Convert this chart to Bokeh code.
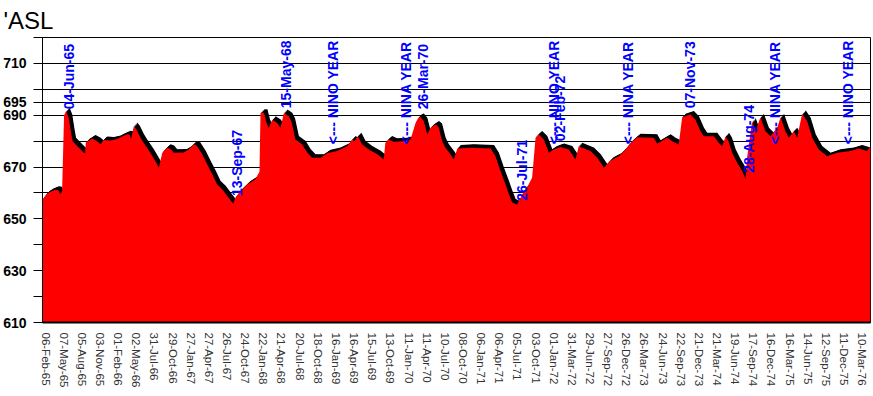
import math
from datetime import datetime, timedelta
from bokeh.plotting import figure
from bokeh.models import Range1d, FixedTicker, DatetimeTickFormatter
from bokeh.core.properties import value
from bokeh.embed import file_html
from bokeh.resources import INLINE

title_text = "'ASL"

x_tick_labels = [
    "06-Feb-65", "07-May-65", "05-Aug-65", "03-Nov-65", "01-Feb-66", "02-May-66",
    "31-Jul-66", "29-Oct-66", "27-Jan-67", "27-Apr-67", "26-Jul-67", "24-Oct-67",
    "22-Jan-68", "21-Apr-68", "20-Jul-68", "18-Oct-68", "16-Jan-69", "16-Apr-69",
    "15-Jul-69", "13-Oct-69", "11-Jan-70", "11-Apr-70", "10-Jul-70", "08-Oct-70",
    "06-Jan-71", "06-Apr-71", "05-Jul-71", "03-Oct-71", "01-Jan-72", "31-Mar-72",
    "29-Jun-72", "27-Sep-72", "26-Dec-72", "26-Mar-73", "24-Jun-73", "22-Sep-73",
    "21-Dec-73", "21-Mar-74", "19-Jun-74", "17-Sep-74", "16-Dec-74", "16-Mar-75",
    "14-Jun-75", "12-Sep-75", "11-Dec-75", "10-Mar-76",
]

y_ticks = [610, 620, 630, 640, 650, 660, 670, 680, 690, 695, 700, 710, 720]
y_labelled = [610, 630, 650, 670, 690, 695, 710]

level_dates = [
    "22-Jan-65", "11-Feb-65", "03-Mar-65", "28-Mar-65", "11-Apr-65", "19-Apr-65",
    "29-Apr-65", "09-May-65", "19-May-65", "01-Jun-65", "11-Jun-65", "20-Jun-65",
    "14-Jul-65", "15-Aug-65", "21-Aug-65", "25-Aug-65", "25-Sep-65", "20-Oct-65",
    "06-Nov-65", "21-Nov-65", "25-Dec-65", "28-Jan-66", "13-Feb-66", "18-Mar-66",
    "30-Mar-66", "06-Apr-66", "20-Apr-66", "03-May-66", "23-May-66", "08-Jun-66",
    "11-Jul-66", "14-Aug-66", "22-Aug-66", "08-Sep-66", "02-Oct-66", "19-Oct-66",
    "04-Nov-66", "22-Dec-66", "17-Jan-67", "11-Feb-67", "25-Feb-67", "25-Mar-67",
    "19-Apr-67", "14-May-67", "07-Jun-67", "02-Jul-67", "27-Jul-67", "21-Aug-67",
    "27-Aug-67", "06-Sep-67", "01-Oct-67", "03-Nov-67", "14-Dec-67", "27-Dec-67",
    "03-Jan-68", "08-Jan-68", "25-Jan-68", "07-Feb-68", "18-Feb-68", "06-Mar-68",
    "31-Mar-68", "16-Apr-68", "03-May-68", "27-May-68", "10-Jun-68", "29-Jun-68",
    "02-Aug-68", "27-Aug-68", "20-Sep-68", "01-Nov-68", "04-Dec-68", "22-Jan-69",
    "13-Mar-69", "07-Apr-69", "18-Apr-69", "05-May-69", "26-May-69", "28-Jun-69",
    "09-Aug-69", "10-Sep-69", "18-Sep-69", "05-Oct-69", "29-Oct-69", "18-Dec-69",
    "21-Jan-70", "15-Feb-70", "01-Mar-70", "11-Mar-70", "28-Mar-70", "14-Apr-70",
    "30-Apr-70", "25-May-70", "09-Jun-70", "27-Jun-70", "13-Jul-70", "07-Aug-70",
    "24-Aug-70", "10-Sep-70", "14-Nov-70", "22-Feb-71", "18-Mar-71", "12-Apr-71",
    "07-May-71", "24-May-71", "09-Jun-71", "04-Jul-71", "29-Jul-71", "30-Aug-71",
    "16-Sep-71", "03-Oct-71", "19-Oct-71", "13-Nov-71", "08-Dec-71", "01-Jan-72",
    "04-Feb-72", "16-Mar-72", "18-Apr-72", "04-May-72", "28-May-72", "01-Jul-72",
    "04-Aug-72", "06-Sep-72", "09-Oct-72", "19-Nov-72", "22-Dec-72", "16-Jan-73",
    "18-Feb-73", "11-May-73", "28-May-73", "17-Jul-73", "10-Aug-73", "12-Sep-73",
    "29-Sep-73", "09-Nov-73", "04-Dec-73", "29-Dec-73", "14-Jan-74", "05-Mar-74",
    "30-Mar-74", "16-Apr-74", "02-May-74", "17-May-74", "04-Jun-74", "29-Jun-74",
    "24-Jul-74", "09-Aug-74", "17-Aug-74", "11-Sep-74", "28-Sep-74", "22-Oct-74",
    "16-Nov-74", "11-Dec-74", "13-Jan-75", "30-Jan-75", "23-Feb-75", "12-Mar-75",
    "06-Apr-75", "22-Apr-75", "17-May-75", "11-Jun-75", "06-Jul-75", "07-Aug-75",
    "18-Sep-75", "07-Nov-75", "12-Jan-76", "22-Feb-76", "03-Apr-76", "20-Apr-76",
]
level_values = [
    657.5, 659.5, 660.5, 661.2, 661.0, 659.5,
    660.5, 690.0, 691.5, 689.0, 684.0, 680.0,
    678.0, 675.5, 675.3, 679.5, 681.0, 680.0,
    678.8, 680.4, 680.2, 680.8, 681.5, 682.7,
    682.5, 680.8, 685.8, 684.5, 681.3, 679.3,
    675.5, 671.0, 669.7, 675.5, 677.4, 677.0,
    675.5, 675.6, 676.8, 678.7, 678.3, 674.9,
    671.0, 667.2, 663.3, 661.4, 658.8, 656.3,
    655.8, 658.2, 660.8, 663.3, 665.3, 667.2,
    668.0, 690.9, 691.0, 687.0, 685.1, 688.3,
    687.0, 685.1, 690.9, 689.6, 687.5, 680.6,
    678.7, 675.5, 673.6, 673.6, 675.3, 676.2,
    678.0, 680.6, 680.0, 681.9, 678.7, 676.8,
    674.9, 672.9, 679.3, 680.6, 679.8, 680.0,
    680.6, 687.0, 689.0, 689.3, 687.7, 682.6,
    685.1, 686.4, 685.5, 680.0, 677.4, 674.9,
    672.9, 677.2, 677.4, 677.2, 674.2, 668.5,
    663.3, 659.5, 656.3, 655.4, 659.5, 663.3,
    665.9, 681.3, 682.6, 680.6, 675.5, 676.8,
    677.7, 676.8, 672.9, 678.0, 677.3, 676.2,
    673.6, 669.7, 672.5, 674.2, 676.8, 679.3,
    681.5, 681.3, 679.0, 681.3, 680.0, 678.7,
    689.2, 690.3, 688.3, 683.8, 681.9, 681.9,
    679.3, 678.0, 681.9, 680.0, 675.5, 671.7,
    668.5, 665.3, 673.6, 687.7, 683.8, 689.2,
    683.8, 681.9, 685.1, 689.2, 683.8, 681.3,
    683.8, 681.3, 690.6, 687.7, 681.3, 676.8,
    674.2, 675.5, 676.2, 677.2, 676.2, 678.0,
]

ann_dates = ["04-Jun-65", "13-Sep-67", "15-May-68", "01-Jan-69", "01-Jan-70",
             "26-Mar-70", "26-Jul-71", "01-Jan-72", "02-Feb-72", "01-Jan-73",
             "07-Nov-73", "28-Aug-74", "01-Jan-75", "01-Jan-76"]
ann_texts = ["04-Jun-65", "13-Sep-67", "15-May-68", "<--- NINO YEAR", "<--- NINA YEAR",
             "26-Mar-70", "26-Jul-71", "<--- NINO YEAR", "02-Feb-72", "<--- NINA YEAR",
             "07-Nov-73", "28-Aug-74", "<--- NINA YEAR", "<--- NINO YEAR"]
ann_values = [692.3, 658.8, 692.7, 678.8, 678.8,
              692.3, 657.0, 678.8, 680.0, 678.8,
              692.7, 667.8, 678.8, 678.8]

x_start, x_end = "22-Jan-65", "20-Apr-76"
y_start, y_end = 610, 720


def d(s):
    return datetime.strptime(s[:7] + "19" + s[7:], "%d-%b-%Y")


def ms(dt):
    return (dt - datetime(1970, 1, 1)).total_seconds() * 1000.0


FL, FR, FT, FB = 42, 870, 37, 322
W, H = 872, 394

p = figure(width=W, height=H, output_backend="svg", toolbar_location=None,
           x_axis_type="datetime",
           x_range=Range1d(d(x_start), d(x_end)), y_range=Range1d(y_start, y_end),
           min_border_left=FL, min_border_right=W - FR, min_border_top=FT,
           min_border_bottom=H - FB, background_fill_color="white",
           border_fill_color="white")
p.outline_line_color = "black"
p.outline_line_width = 1

p.title.text = title_text
p.title.text_font = "Liberation Sans"
p.title.text_font_size = "24px"
p.title.text_font_style = "normal"
p.title.text_color = "black"
p.title.standoff = 8
p.title.offset = -39

# frame pixel geometry for the depth effect
frame_w = FR - FL
frame_h = FB - FT
days_per_px = (d(x_end) - d(x_start)).total_seconds() / 86400.0 / frame_w
val_per_px = (y_end - y_start) / frame_h

xs = [d(s) for s in level_dates]
for k in (3.5, 3, 2, 1):
    sx = [t + timedelta(days=k * days_per_px) for t in xs]
    sy = [v + k * val_per_px for v in level_values]
    p.varea(x=sx, y1=[y_start] * len(sx), y2=sy, fill_color="black")
p.varea(x=xs, y1=[y_start] * len(xs), y2=level_values, fill_color="#ff0000")

# annotations
p.text(x=[d(s) for s in ann_dates], y=ann_values, text=ann_texts,
       angle=math.pi / 2, text_align="left", text_baseline="alphabetic",
       text_color="#0000ff", text_font=value("Liberation Sans"),
       text_font_style="bold", text_font_size="14px")

# y axis
p.yaxis.ticker = FixedTicker(ticks=y_ticks)
p.yaxis.major_label_overrides = {t: (str(t) if t in y_labelled else "") for t in y_ticks}
p.yaxis.major_label_text_font = "Liberation Sans"
p.yaxis.major_label_text_font_style = "bold"
p.yaxis.major_label_text_font_size = "14px"
p.yaxis.major_label_text_color = "black"
p.yaxis.major_label_standoff = 7
p.yaxis.major_tick_out = 9
p.yaxis.major_tick_in = 0
p.yaxis.minor_tick_out = 0
p.yaxis.minor_tick_in = 0
p.yaxis.major_tick_line_color = "black"
p.yaxis.axis_line_color = "black"

p.ygrid.ticker = FixedTicker(ticks=y_ticks)
p.ygrid.grid_line_color = "black"
p.ygrid.grid_line_width = 1
p.xgrid.grid_line_color = None

# x axis
x_ticks = [ms(d(s)) for s in x_tick_labels]
p.xaxis.ticker = FixedTicker(ticks=x_ticks)
p.xaxis.formatter = DatetimeTickFormatter(
    days="%d-%b-%y", months="%d-%b-%y", years="%d-%b-%y", hours="%d-%b-%y")
p.xaxis.major_label_overrides = {t: s for t, s in zip(x_ticks, x_tick_labels)}
p.xaxis.major_label_orientation = "vertical"
p.xaxis.major_label_text_font = "Liberation Sans"
p.xaxis.major_label_text_font_size = "11.5px"
p.xaxis.major_label_text_color = "#333333"
p.xaxis.major_label_standoff = 10
p.xaxis.major_tick_out = 0
p.xaxis.major_tick_in = 0
p.xaxis.minor_tick_out = 0
p.xaxis.minor_tick_in = 0
p.xaxis.axis_line_color = "black"
p.xaxis.axis_line_width = 2

open("out.html", "w").write(file_html(p, INLINE))
